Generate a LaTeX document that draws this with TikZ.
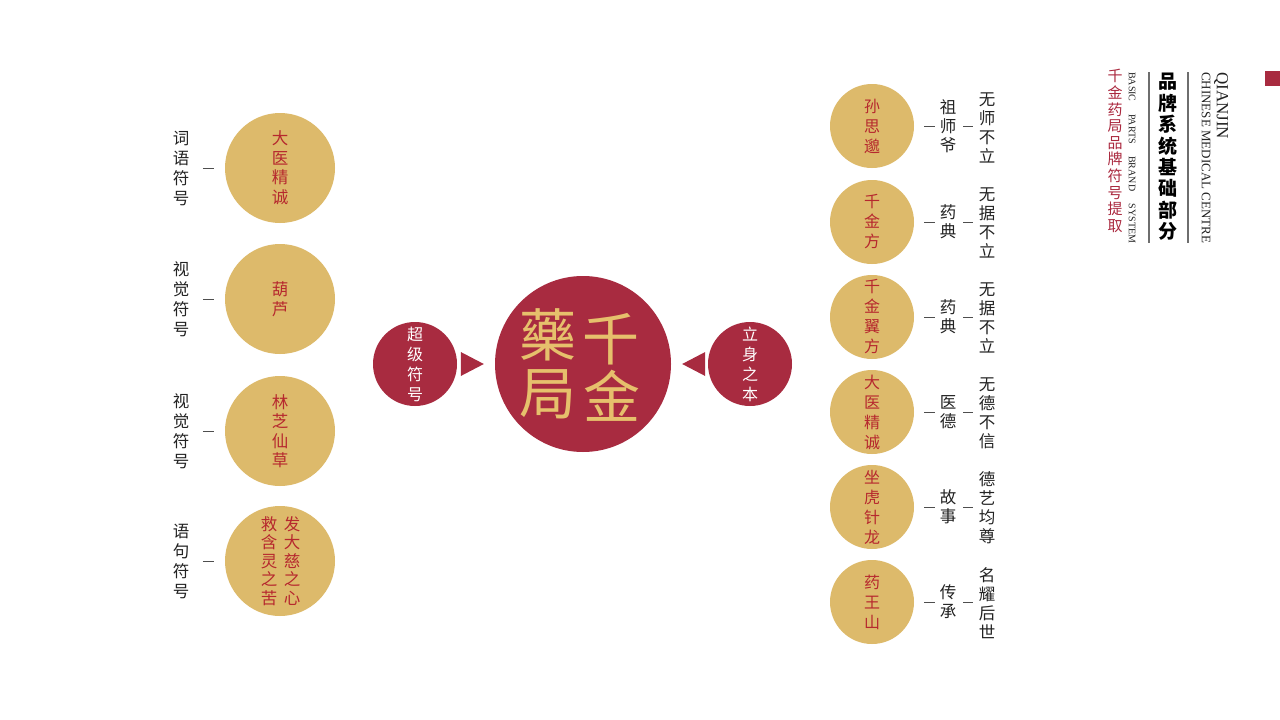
\documentclass[tikz,border=0pt]{standalone}
\usepackage{fontspec}
\setmainfont{Liberation Serif}
\newfontfamily\cjk{Noto Sans CJK SC}
\usetikzlibrary{calc}
\definecolor{gold}{RGB}{221,186,107}
\definecolor{crimson}{RGB}{168,43,64}
\definecolor{redtxt}{RGB}{182,40,46}
\definecolor{hdrred}{RGB}{170,40,62}
\definecolor{bigtxt}{RGB}{230,192,108}
\definecolor{ink}{RGB}{34,34,34}
\definecolor{rule}{RGB}{110,110,110}
\begin{document}
\begin{tikzpicture}[x=1pt,y=-1pt,
  goldbig/.style={circle,fill=gold,minimum size=110pt,inner sep=0pt,text=redtxt,align=center,font=\cjk\fontsize{16.5}{19.5}\selectfont},
  goldsm/.style={circle,fill=gold,minimum size=84pt,inner sep=0pt,text=redtxt,align=center,font=\cjk\fontsize{16}{20}\selectfont},
  redsm/.style={circle,fill=crimson,minimum size=84pt,inner sep=0pt,text=white,align=center,font=\cjk\fontsize{16}{20}\selectfont},
  redbig/.style={circle,fill=crimson,minimum size=176pt,inner sep=0pt},
  coltext/.style={inner sep=0pt,text=redtxt,align=center,font=\cjk\fontsize{16.5}{18.5}\selectfont},
  bigchar/.style={inner sep=0pt,text=bigtxt,font=\cjk\fontsize{57}{57}\selectfont},
  lbl/.style={inner sep=0pt,text=ink,align=center,font=\cjk\fontsize{16.5}{20}\selectfont},
  lblr/.style={inner sep=0pt,text=ink,align=center,font=\cjk\fontsize{16.5}{19}\selectfont},
  tick/.style={draw=ink!80,line width=0.7pt},
  vrule/.style={draw=rule,line width=1.4pt},
  tri/.style={fill=crimson}
]
\useasboundingbox (0,0) rectangle (1280,720);
\fill[white] (0,0) rectangle (1280,720);

% ---------- left column ----------
\node[goldbig] (L1) at (280,168) {大\\医\\精\\诚};
\node[goldbig] (L2) at (280,299) {葫\\芦};
\node[goldbig] (L3) at (280,431) {林\\芝\\仙\\草};
\node[goldbig] (L4) at (280,561) {};
\node[coltext] (L4a) at (292,561) {发\\大\\慈\\之\\心};
\node[coltext] (L4b) at (269,561) {救\\含\\灵\\之\\苦};

\node[lbl] (T1) at (181,168) {词\\语\\符\\号};
\node[lbl] (T2) at (181,299) {视\\觉\\符\\号};
\node[lbl] (T3) at (181,431) {视\\觉\\符\\号};
\node[lbl] (T4) at (181,561) {语\\句\\符\\号};
\foreach \i in {1,2,3,4}{
  \draw[tick] ($(L\i.west)+(-22,0)$) -- ($(L\i.west)+(-11,0)$);
}

% ---------- center ----------
\node[redbig] (C) at (583,364) {};
\node[bigchar] (c1) at (611,339) {千};
\node[bigchar] (c2) at (612,396) {金};
\node[bigchar] (c3) at (548,335) {藥};
\node[bigchar] (c4) at (548,394) {局};

\node[redsm] (S1) at (415,364) {超\\级\\符\\号};
\node[redsm] (S2) at (750,364) {立\\身\\之\\本};

\coordinate (TL) at ($(C.west)+(-11,0)$);
\coordinate (TR) at ($(C.east)+(11,0)$);
\fill[tri] (TL) -- ++(-23,-12) -- ++(0,24) -- cycle;
\fill[tri] (TR) -- ++(23,-12) -- ++(0,24) -- cycle;

% ---------- right column ----------
\node[goldsm] (R1) at (872,126) {孙\\思\\邈};
\node[goldsm] (R2) at (872,222) {千\\金\\方};
\node[goldsm] (R3) at (872,317) {千\\金\\翼\\方};
\node[goldsm] (R4) at (872,412) {大\\医\\精\\诚};
\node[goldsm] (R5) at (872,507) {坐\\虎\\针\\龙};
\node[goldsm] (R6) at (872,602) {药\\王\\山};

\node[lblr] (M1) at (948,126) {祖\\师\\爷};
\node[lblr] (M2) at (948,222) {药\\典};
\node[lblr] (M3) at (948,317) {药\\典};
\node[lblr] (M4) at (948,412) {医\\德};
\node[lblr] (M5) at (948,507) {故\\事};
\node[lblr] (M6) at (948,602) {传\\承};

\node[lblr] (N1) at (987,128) {无\\师\\不\\立};
\node[lblr] (N2) at (987,223) {无\\据\\不\\立};
\node[lblr] (N3) at (987,318) {无\\据\\不\\立};
\node[lblr] (N4) at (987,413) {无\\德\\不\\信};
\node[lblr] (N5) at (987,508) {德\\艺\\均\\尊};
\node[lblr] (N6) at (987,603) {名\\耀\\后\\世};

\foreach \i in {1,...,6}{
  \draw[tick] ($(R\i.east)+(10,0)$) -- ($(R\i.east)+(21,0)$);
  \draw[tick] ($(R\i.east)+(49,0)$) -- ($(R\i.east)+(59,0)$);
}

% ---------- header ----------
\node[fill=crimson,minimum size=15pt,inner sep=0pt,anchor=north west] (sq) at (1265,71) {};
\node[rotate=-90,anchor=west,inner sep=0pt,text=ink,font=\fontsize{17}{17}\selectfont] (h1) at (1221,72) {QIANJIN};
\node[rotate=-90,anchor=west,inner sep=0pt,text=ink,font=\fontsize{13}{13}\selectfont] (h2) at (1206,72) {\makebox[171pt][s]{CHINESE MEDICAL CENTRE}};
\coordinate (v1a) at (1188,72); \coordinate (v1b) at (1188,243);
\draw[vrule] (v1a) -- (v1b);
\node[inner sep=0pt,text=black,align=center,font=\cjk\bfseries\fontsize{19}{21.4}\selectfont] (h3) at (1168,157) {品\\牌\\系\\统\\基\\础\\部\\分};
\coordinate (v2a) at (1149,72); \coordinate (v2b) at (1149,243);
\draw[vrule] (v2a) -- (v2b);
\node[rotate=-90,anchor=west,inner sep=0pt,text=ink,font=\fontsize{10}{10}\selectfont] (h4) at (1132,72) {\makebox[171pt][s]{BASIC PARTS BRAND SYSTEM}};
\node[inner sep=0pt,text=hdrred,align=center,font=\cjk\fontsize{15}{16.6}\selectfont] (h5) at (1115,151) {千\\金\\药\\局\\品\\牌\\符\\号\\提\\取};
\end{tikzpicture}
\end{document}
